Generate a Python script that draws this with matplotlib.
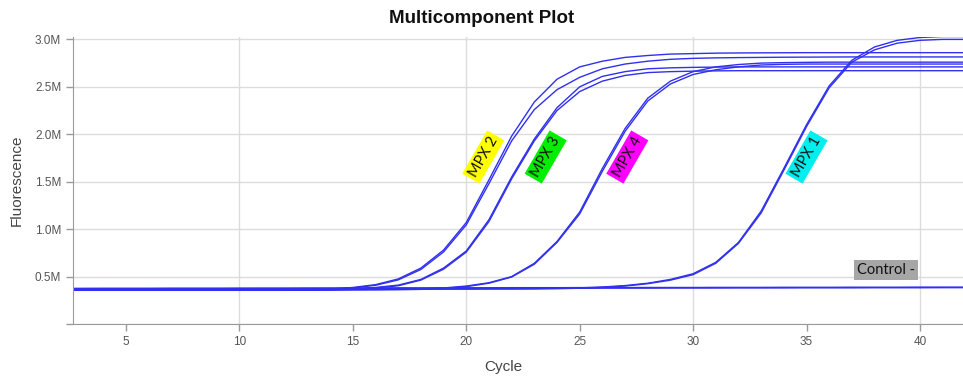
import matplotlib
matplotlib.use("Agg")
import matplotlib.pyplot as plt
from matplotlib.ticker import FuncFormatter

# cycle numbers, one reading per cycle
cycles = list(range(1, 43))

# fluorescence readings in millions
mpx2_a = [0.365, 0.365, 0.365, 0.365, 0.365, 0.365, 0.365, 0.365, 0.365, 0.365,
          0.365, 0.366, 0.367, 0.370, 0.385, 0.415, 0.475, 0.590, 0.780, 1.070,
          1.520, 1.980, 2.340, 2.580, 2.710, 2.770, 2.810, 2.830, 2.845, 2.850,
          2.855, 2.857, 2.858, 2.859, 2.860, 2.860, 2.860, 2.860, 2.860, 2.860,
          2.860, 2.860]
mpx2_b = [0.360, 0.360, 0.360, 0.360, 0.360, 0.360, 0.360, 0.360, 0.360, 0.360,
          0.360, 0.361, 0.362, 0.365, 0.380, 0.408, 0.465, 0.575, 0.760, 1.045,
          1.480, 1.930, 2.260, 2.470, 2.600, 2.690, 2.740, 2.770, 2.790, 2.800,
          2.805, 2.808, 2.810, 2.812, 2.813, 2.814, 2.815, 2.815, 2.815, 2.815,
          2.815, 2.815]
mpx3_a = [0.360, 0.360, 0.360, 0.360, 0.360, 0.360, 0.360, 0.360, 0.360, 0.360,
          0.360, 0.360, 0.361, 0.362, 0.370, 0.385, 0.410, 0.470, 0.590, 0.770,
          1.100, 1.550, 1.950, 2.280, 2.500, 2.610, 2.660, 2.690, 2.700, 2.705,
          2.708, 2.710, 2.710, 2.710, 2.710, 2.710, 2.710, 2.710, 2.710, 2.710,
          2.710, 2.710]
mpx3_b = [0.355, 0.355, 0.355, 0.355, 0.355, 0.355, 0.355, 0.355, 0.355, 0.355,
          0.355, 0.355, 0.356, 0.358, 0.366, 0.380, 0.403, 0.463, 0.578, 0.758,
          1.080, 1.530, 1.930, 2.250, 2.450, 2.560, 2.620, 2.650, 2.660, 2.665,
          2.668, 2.670, 2.670, 2.670, 2.670, 2.670, 2.670, 2.670, 2.670, 2.670,
          2.670, 2.670]
mpx4_a = [0.365, 0.365, 0.365, 0.365, 0.365, 0.365, 0.365, 0.365, 0.365, 0.365,
          0.365, 0.365, 0.365, 0.365, 0.365, 0.366, 0.367, 0.370, 0.380, 0.400,
          0.435, 0.500, 0.640, 0.870, 1.180, 1.640, 2.060, 2.380, 2.560, 2.660,
          2.710, 2.735, 2.750, 2.755, 2.758, 2.760, 2.760, 2.760, 2.760, 2.760,
          2.760, 2.760]
mpx4_b = [0.358, 0.358, 0.358, 0.358, 0.358, 0.358, 0.358, 0.358, 0.358, 0.358,
          0.358, 0.358, 0.358, 0.358, 0.358, 0.359, 0.361, 0.365, 0.374, 0.394,
          0.430, 0.495, 0.630, 0.860, 1.160, 1.610, 2.030, 2.350, 2.530, 2.630,
          2.680, 2.710, 2.730, 2.737, 2.740, 2.740, 2.740, 2.740, 2.740, 2.740,
          2.740, 2.740]
mpx1_a = [0.372, 0.372, 0.372, 0.372, 0.372, 0.372, 0.372, 0.372, 0.372, 0.372,
          0.372, 0.372, 0.372, 0.372, 0.372, 0.372, 0.373, 0.373, 0.373, 0.373,
          0.374, 0.374, 0.375, 0.377, 0.381, 0.390, 0.405, 0.430, 0.470, 0.530,
          0.650, 0.860, 1.190, 1.640, 2.100, 2.510, 2.780, 2.920, 2.990, 3.020,
          3.030, 3.030]
mpx1_b = [0.365, 0.365, 0.365, 0.365, 0.365, 0.365, 0.365, 0.365, 0.365, 0.365,
          0.365, 0.365, 0.365, 0.365, 0.365, 0.365, 0.366, 0.366, 0.367, 0.367,
          0.368, 0.368, 0.369, 0.372, 0.377, 0.386, 0.400, 0.425, 0.462, 0.520,
          0.640, 0.850, 1.170, 1.620, 2.080, 2.490, 2.760, 2.890, 2.960, 2.990,
          3.000, 3.000]
control_a = [0.370, 0.370, 0.370, 0.370, 0.371, 0.371, 0.371, 0.372, 0.372, 0.372,
             0.373, 0.373, 0.373, 0.374, 0.374, 0.374, 0.375, 0.375, 0.375, 0.376,
             0.376, 0.376, 0.377, 0.377, 0.377, 0.378, 0.378, 0.378, 0.379, 0.379,
             0.379, 0.380, 0.380, 0.380, 0.381, 0.381, 0.381, 0.382, 0.382, 0.382,
             0.383, 0.383]
control_b = [0.376, 0.376, 0.376, 0.377, 0.377, 0.377, 0.378, 0.378, 0.378, 0.379,
             0.379, 0.379, 0.380, 0.380, 0.380, 0.381, 0.381, 0.381, 0.382, 0.382,
             0.382, 0.383, 0.383, 0.383, 0.384, 0.384, 0.384, 0.385, 0.385, 0.385,
             0.386, 0.386, 0.386, 0.387, 0.387, 0.387, 0.388, 0.388, 0.388, 0.389,
             0.389, 0.389]

series = [mpx2_a, mpx2_b, mpx3_a, mpx3_b, mpx4_a, mpx4_b, mpx1_a, mpx1_b,
          control_a, control_b]

# tags: text, (cycle, value in M), box colour, rotation
tag_text = ["MPX 2", "MPX 3", "MPX 4", "MPX 1", "Control -"]
tag_pos = [(20.75, 1.76), (23.5, 1.76), (27.1, 1.76), (35.0, 1.76), (38.5, 0.565)]
tag_color = ["#ffff00", "#00ee00", "#ff00ff", "#00eeee", "#a6a6a6"]
tag_rot = [60, 60, 60, 60, 0]

LINE = "#3030ee"
GREY = "#555555"

fig = plt.figure(figsize=(9.63, 3.79), dpi=100)
ax = fig.add_axes([0.0758, 0.1451, 0.9242, 0.756])

for s in series:
    ax.plot(cycles, [v * 1e6 for v in s], color=LINE, lw=1.0)

ax.set_xlim(2.66, 41.9)
ax.set_ylim(0, 3.02e6)

ax.set_xticks([10, 20, 30, 40])
ax.set_xticks([5, 15, 25, 35], minor=True)
ax.xaxis.set_minor_formatter(FuncFormatter(lambda v, p: "%d" % v))
ax.set_yticks([0, 0.5e6, 1.0e6, 1.5e6, 2.0e6, 2.5e6, 3.0e6])
ax.yaxis.set_major_formatter(
    FuncFormatter(lambda v, p: "" if v == 0 else "%.1fM" % (v / 1e6)))

ax.grid(True, which="major", color="#dcdcdc", lw=1)
ax.set_axisbelow(True)
for side in ["top", "right"]:
    ax.spines[side].set_visible(False)
for side in ["left", "bottom"]:
    ax.spines[side].set_color("#9a9a9a")
ax.tick_params(which="both", length=5, color="#9a9a9a", labelcolor=GREY,
               labelsize=8.5, width=1)
for lab in ax.get_xticklabels(which="both") + ax.get_yticklabels():
    lab.set_fontfamily("Liberation Sans")

ax.set_xlabel("Cycle", fontsize=11, color="#444444", family="Liberation Sans")
ax.xaxis.set_label_coords((503 - 73) / 890.0, -0.125)
ax.set_ylabel("Fluorescence", fontsize=11, color="#444444",
              family="Liberation Sans", labelpad=8)
fig.text(0.500, 0.950, "Multicomponent Plot", ha="center", va="center",
         fontsize=13.5, fontweight="bold", family="Liberation Sans", color="#111111")

for txt, (cx, cy), col, rot in zip(tag_text, tag_pos, tag_color, tag_rot):
    ax.text(cx, cy * 1e6, txt, rotation=rot, ha="center", va="center",
            fontsize=10.5, family="Lato", color="#111111",
            bbox=dict(boxstyle="square,pad=0.2", fc=col, ec="none"))

fig.savefig("out.png", dpi=100)
